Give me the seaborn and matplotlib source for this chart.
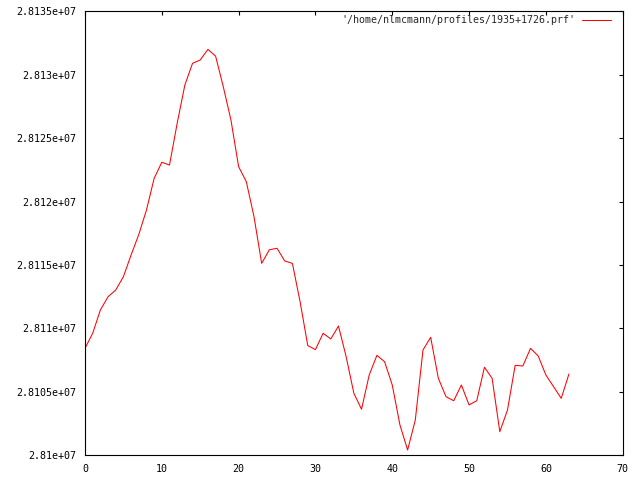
import numpy as np
import pandas as pd
import matplotlib
matplotlib.use('Agg')
import matplotlib.pyplot as plt
import seaborn as sns
from matplotlib.ticker import FuncFormatter

# Perfil
etiqueta = "'/home/nlmcmann/profiles/1935+1726.prf'"
valores = [28108430, 28109620, 28111450, 28112500, 28113030, 28114080, 28115790, 28117400,
           28119330, 28121830, 28123100, 28122880, 28126170, 28129190, 28130900, 28131160,
           28132000, 28131470, 28129060, 28126430, 28122750, 28121570, 28118810, 28115130,
           28116200, 28116320, 28115320, 28115130, 28112110, 28108650, 28108330, 28109620,
           28109170, 28110190, 28107770, 28104890, 28103630, 28106330, 28107880, 28107380,
           28105540, 28102390, 28100420, 28102780, 28108300, 28109300, 28106070, 28104620,
           28104300, 28105540, 28103970, 28104300, 28106940, 28106070, 28101860, 28103570,
           28107090, 28107040, 28108430, 28107830, 28106330, 28105410, 28104490, 28106410]
xticks = [0, 10, 20, 30, 40, 50, 60, 70]
yticks = [28100000, 28105000, 28110000, 28115000, 28120000, 28125000, 28130000, 28135000]

df = pd.DataFrame({'x': np.arange(len(valores)), 'y': valores, 'serie': etiqueta})

sns.set_style('white')
plt.rcParams['font.family'] = ['DejaVu Sans Mono', 'DejaVu Sans']
plt.rcParams['font.size'] = 7.2

fig = plt.figure(figsize=(6.4, 4.8), dpi=100)
ax = fig.add_axes([85/640, 1-455.3/480, 537.7/640, 444/480])

sns.lineplot(data=df, x='x', y='y', hue='serie', palette=['#ff0000'], linewidth=0.75, ax=ax)

ax.set_xlim(0, 70)
ax.set_ylim(28100000, 28135000)
ax.set_xticks(xticks)
ax.set_yticks(yticks)
ax.yaxis.set_major_formatter(FuncFormatter(lambda v, p: '%g' % v))
ax.set_xlabel('')
ax.set_ylabel('')
for s in ax.spines.values():
    s.set_color('black')
    s.set_linewidth(0.8)
ax.tick_params(direction='in', length=3, width=0.8, colors='black',
               top=True, right=True, labelsize=7.2, pad=6)

ax.legend(loc='upper right', bbox_to_anchor=((611-85)/537.7, (455.3-15)/444),
          frameon=False, markerfirst=False, borderpad=0, borderaxespad=0,
          handlelength=2.9, handletextpad=0.7, fontsize=7.2)

fig.savefig('out.png', dpi=100)
